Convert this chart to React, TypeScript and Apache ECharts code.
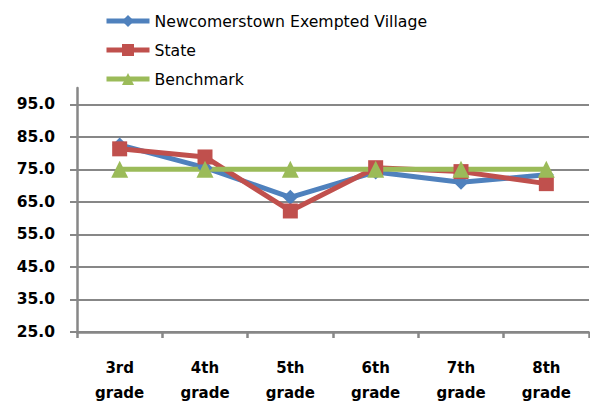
import React, { useEffect, useRef } from "react";
import * as echarts from "echarts";

const categories = ["3rd\ngrade", "4th\ngrade", "5th\ngrade", "6th\ngrade", "7th\ngrade", "8th\ngrade"];
const villageValues = [82.5, 75.5, 66.4, 74.2, 71.0, 73.3];
const stateValues = [81.3, 78.8, 62.2, 75.5, 74.3, 70.6];
const benchmarkValues = [75, 75, 75, 75, 75, 75];
const seriesNames = ["Newcomerstown Exempted Village", "State", "Benchmark"];

export default function App() {
  const ref = useRef<HTMLDivElement>(null);
  useEffect(() => {
    if (!ref.current) return;
    const chart = echarts.init(ref.current, undefined, { renderer: "svg" });
    const gray = "#878787";
    chart.setOption({
      animation: false,
      backgroundColor: "#ffffff",
      legend: {
        orient: "vertical",
        left: 99,
        top: 8,
        padding: 5,
        itemWidth: 43,
        itemHeight: 15,
        itemGap: 13,
        lineStyle: { width: 5 },
        textStyle: { fontFamily: "DejaVu Sans", fontSize: 15.7, color: "#000", lineHeight: 16 },
        data: seriesNames,
      },
      grid: { left: 77, right: 1, top: 88, bottom: 72, outerBoundsMode: "none", containLabel: false },
      xAxis: {
        type: "category",
        data: categories,
        boundaryGap: true,
        axisLine: { lineStyle: { color: gray, width: 2.5 } },
        axisTick: { show: true, length: 6, lineStyle: { color: gray, width: 2.5 } },
        axisLabel: {
          margin: 23,
          fontFamily: "DejaVu Sans",
          fontWeight: "bold",
          fontSize: 15,
          lineHeight: 25,
          color: "#000",
        },
      },
      yAxis: {
        type: "value",
        min: 25,
        max: 100,
        interval: 10,
        axisLine: { show: true, lineStyle: { color: gray, width: 2.5 } },
        axisTick: { show: true, length: 7, lineStyle: { color: gray, width: 2 } },
        splitLine: { show: true, showMaxLine: false, lineStyle: { color: gray, width: 2 } },
        axisLabel: {
          showMaxLabel: false,
          margin: 22,
          fontFamily: "DejaVu Sans",
          fontWeight: "bold",
          fontSize: 15.5,
          color: "#000",
          formatter: (v: number) => (v >= 100 ? "" : v.toFixed(1)),
        },
      },
      series: [
        {
          name: seriesNames[0],
          type: "line",
          data: villageValues,
          symbol: "diamond",
          symbolSize: 15,
          itemStyle: { color: "#4F81BD" },
          lineStyle: { color: "#4F81BD", width: 5 },
        },
        {
          name: seriesNames[1],
          type: "line",
          data: stateValues,
          symbol: "rect",
          symbolSize: 15,
          itemStyle: { color: "#C0504D" },
          lineStyle: { color: "#C0504D", width: 5 },
        },
        {
          name: seriesNames[2],
          type: "line",
          data: benchmarkValues,
          symbol: "triangle",
          symbolSize: 17,
          itemStyle: { color: "#9BBB59" },
          lineStyle: { color: "#9BBB59", width: 5 },
        },
      ],
    });
    return () => chart.dispose();
  }, []);
  return (
    <div
      ref={ref}
      style={{ position: "absolute", left: 0, top: 0, width: 590, height: 404 }}
    />
  );
}
